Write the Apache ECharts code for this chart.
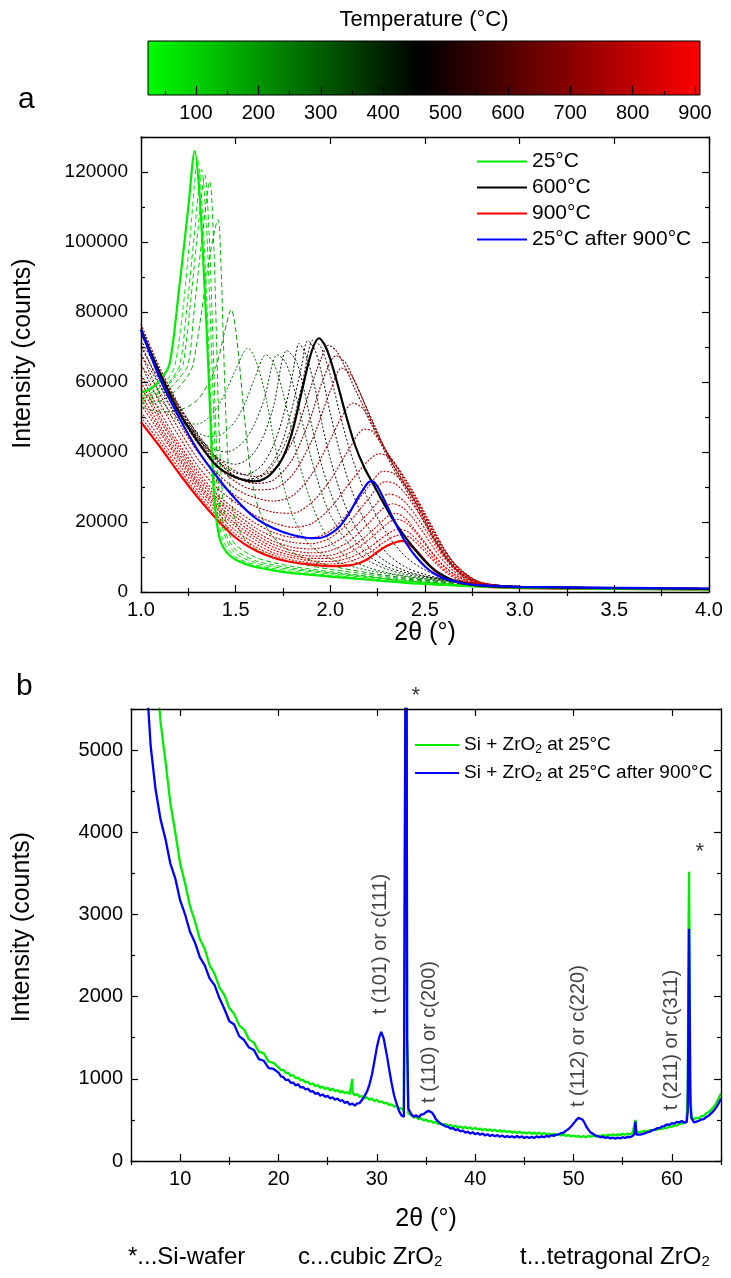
<!DOCTYPE html>
<html><head><meta charset="utf-8">
<script src="https://cdn.jsdelivr.net/npm/echarts@6/dist/echarts.min.js"></script>
<style>html,body{margin:0;padding:0;background:#fff}#c{width:731px;height:1278px}</style>
</head><body><div id="c"></div>
<script>
// ---------------- tick / category arrays ----------------
const tempTicks = [100,200,300,400,500,600,700,800,900];
const tempMinor = [50,150,250,350,450,550,650,750,850];
const tempRange = [23, 908];
const ttTicksA = [1.0,1.5,2.0,2.5,3.0,3.5,4.0];
const ttMinorA = [1.25,1.75,2.25,2.75,3.25,3.75];
const intTicksA = [0,20000,40000,60000,80000,100000,120000];
const intMinorA = [10000,30000,50000,70000,90000,110000,130000];
const ttTicksB = [10,20,30,40,50,60];
const ttMinorB = [5,15,25,35,45,55,65];
const intTicksB = [0,1000,2000,3000,4000,5000];
const intMinorB = [500,1500,2500,3500,4500,5500];

// ---------------- panel a: curves [2theta, counts] ----------------
const a25 = [[1.00,57000],[1.05,58000],[1.10,60500],[1.15,65000],[1.20,86000],[1.25,110000],[1.284,126000],[1.31,113000],[1.335,88000],[1.355,65000],[1.37,45000],[1.385,28000],[1.40,20000],[1.42,14500],[1.45,11500],[1.50,9200],[1.60,7200],[1.70,6200],[1.80,5400],[1.90,4900],[2.00,4400],[2.20,3500],[2.40,2600],[2.60,2000],[2.80,1500],[3.00,1200],[3.50,900],[4.00,700]];
const a50 = [[1.00,56000],[1.05,56800],[1.10,58500],[1.15,61500],[1.18,65000],[1.22,80000],[1.26,102000],[1.30,123500],[1.325,108000],[1.35,80000],[1.37,52000],[1.39,30000],[1.41,20000],[1.44,14000],[1.50,10000],[1.60,7800],[1.70,6700],[1.80,5900],[1.90,5300],[2.00,4800],[2.20,3800],[2.40,2900],[2.60,2200],[2.80,1700],[3.00,1300],[3.50,1000],[4.00,800]];
const a75 = [[1.00,55500],[1.05,56000],[1.10,57500],[1.15,60000],[1.205,65000],[1.24,80000],[1.28,101000],[1.32,120700],[1.345,105000],[1.365,80000],[1.385,50000],[1.40,32000],[1.42,21000],[1.45,15000],[1.50,11000],[1.60,8400],[1.70,7200],[1.80,6400],[1.90,5800],[2.00,5200],[2.20,4100],[2.40,3100],[2.60,2300],[2.80,1700],[3.00,1300],[3.50,1000],[4.00,800]];
const a100 = [[1.00,55000],[1.05,55500],[1.10,57000],[1.15,59500],[1.20,63000],[1.223,65000],[1.26,82000],[1.30,103000],[1.337,119200],[1.36,102000],[1.38,72000],[1.40,40000],[1.42,24000],[1.45,16500],[1.50,12000],[1.60,9000],[1.70,7700],[1.80,6800],[1.90,6100],[2.00,5500],[2.20,4300],[2.40,3200],[2.60,2400],[2.80,1800],[3.00,1400],[3.50,1000],[4.00,800]];
const a125 = [[1.00,54500],[1.05,55000],[1.10,56000],[1.15,58000],[1.20,61000],[1.249,65000],[1.28,80000],[1.32,100000],[1.363,117300],[1.385,98000],[1.40,70000],[1.415,42000],[1.435,25000],[1.46,17500],[1.50,13500],[1.60,10000],[1.70,8400],[1.80,7300],[1.90,6500],[2.00,5800],[2.20,4500],[2.40,3400],[2.60,2500],[2.80,1800],[3.00,1400],[3.50,1000],[4.00,800]];
const a150 = [[1.00,54000],[1.05,54000],[1.10,54500],[1.15,56000],[1.20,58500],[1.25,62000],[1.275,65000],[1.32,80000],[1.36,95000],[1.407,106400],[1.42,97000],[1.435,72000],[1.45,48000],[1.47,30000],[1.50,20000],[1.55,15000],[1.60,12500],[1.70,10000],[1.80,8500],[1.90,7400],[2.00,6500],[2.20,5000],[2.40,3700],[2.60,2700],[2.80,1900],[3.00,1500],[3.50,1100],[4.00,900]];
const a200 = [[1.00,53000],[1.05,52000],[1.10,51500],[1.15,51500],[1.20,52000],[1.25,53000],[1.30,55000],[1.35,59000],[1.40,65000],[1.44,74000],[1.477,80700],[1.50,75000],[1.52,65000],[1.55,48000],[1.58,34000],[1.62,24000],[1.68,17000],[1.75,13000],[1.85,10000],[2.00,7500],[2.20,5500],[2.40,4000],[2.60,2900],[2.80,2000],[3.00,1500],[3.50,1100],[4.00,900]];
const a250 = [[1.00,58000],[1.05,55000],[1.10,52500],[1.15,50500],[1.20,49000],[1.25,48000],[1.30,48000],[1.35,49500],[1.40,52500],[1.45,57500],[1.50,63500],[1.565,69700],[1.60,67000],[1.65,58000],[1.70,44000],[1.75,31000],[1.80,22000],[1.85,16500],[1.90,13000],[2.00,9500],[2.10,7500],[2.20,6200],[2.40,4400],[2.60,3100],[2.80,2100],[3.00,1600],[3.50,1200],[4.00,900]];
const a300 = [[1.00,62000],[1.05,58500],[1.10,55000],[1.15,52000],[1.20,49500],[1.25,47000],[1.30,45500],[1.35,44500],[1.40,44500],[1.45,46000],[1.50,49000],[1.55,54000],[1.60,61000],[1.66,67800],[1.70,65500],[1.75,57000],[1.80,45000],[1.85,34000],[1.90,25500],[1.95,19000],[2.00,14500],[2.10,9500],[2.20,7000],[2.30,5500],[2.40,4500],[2.60,3200],[2.80,2200],[3.00,1600],[3.50,1200],[4.00,900]];
const a350 = [[1.00,65000],[1.05,61000],[1.10,57000],[1.15,53500],[1.20,50000],[1.25,47000],[1.30,44000],[1.35,42000],[1.40,40500],[1.45,40000],[1.50,41000],[1.55,43500],[1.60,48000],[1.65,55000],[1.72,67800],[1.76,66000],[1.80,60000],[1.85,49000],[1.90,38000],[1.95,29000],[2.00,22000],[2.10,13500],[2.20,9000],[2.30,6500],[2.40,5000],[2.60,3400],[2.80,2300],[3.00,1600],[3.50,1200],[4.00,900]];
const a400 = [[1.00,68000],[1.05,63500],[1.10,59000],[1.15,55000],[1.20,51000],[1.25,47500],[1.30,44000],[1.35,41000],[1.40,38500],[1.45,37000],[1.50,36500],[1.55,37500],[1.60,40000],[1.65,45000],[1.70,53000],[1.77,69000],[1.82,66000],[1.86,58000],[1.90,48000],[1.95,37000],[2.00,28500],[2.05,22000],[2.10,17000],[2.20,10500],[2.30,7200],[2.40,5500],[2.60,3500],[2.80,2300],[3.00,1600],[3.50,1200],[4.00,900]];
const a450 = [[1.00,70000],[1.05,65000],[1.10,60500],[1.15,56000],[1.20,52000],[1.25,48000],[1.30,44500],[1.35,41000],[1.40,38000],[1.45,35500],[1.50,34000],[1.55,33500],[1.60,34500],[1.65,37000],[1.70,42000],[1.75,50000],[1.80,62000],[1.835,71000],[1.87,68000],[1.92,58000],[1.96,47000],[2.00,38000],[2.05,29000],[2.10,22000],[2.20,13000],[2.30,8500],[2.40,6000],[2.50,4500],[2.60,3600],[2.80,2300],[3.00,1600],[3.50,1200],[4.00,900]];
const a500 = [[1.00,72000],[1.05,67000],[1.10,62000],[1.15,57500],[1.20,53000],[1.25,49000],[1.30,45000],[1.35,41500],[1.40,38000],[1.45,35000],[1.50,33000],[1.55,32200],[1.60,32500],[1.65,34000],[1.70,37500],[1.75,43500],[1.80,53000],[1.85,65000],[1.88,71800],[1.92,69000],[1.96,61000],[2.00,51000],[2.05,40000],[2.10,31000],[2.15,24000],[2.20,18500],[2.30,11000],[2.40,7000],[2.50,5000],[2.60,3700],[2.80,2300],[3.00,1600],[3.50,1200],[4.00,900]];
const a550 = [[1.00,73500],[1.05,68500],[1.10,63000],[1.15,58000],[1.20,53000],[1.25,48500],[1.30,44000],[1.35,40000],[1.40,36500],[1.45,34000],[1.50,32500],[1.55,31800],[1.60,32000],[1.65,33500],[1.70,36500],[1.75,41000],[1.80,48000],[1.85,59000],[1.91,72000],[1.95,70000],[2.00,62000],[2.05,51000],[2.10,41000],[2.15,33000],[2.20,26500],[2.30,16500],[2.40,10000],[2.50,6300],[2.60,4200],[2.80,2300],[3.00,1600],[3.50,1200],[4.00,900]];
const a600 = [[1.00,75000],[1.10,62500],[1.20,51500],[1.30,43000],[1.40,36000],[1.50,32800],[1.60,31600],[1.65,32300],[1.70,34500],[1.75,38500],[1.80,46000],[1.85,57500],[1.90,68500],[1.94,72500],[1.98,69500],[2.03,61000],[2.08,51000],[2.13,42000],[2.18,35500],[2.23,30500],[2.28,25500],[2.33,20800],[2.38,16800],[2.43,13300],[2.48,10000],[2.53,7200],[2.58,5200],[2.65,3300],[2.75,2000],[2.90,1500],[3.00,1400],[3.50,1100],[4.00,900]];
const a650 = [[1.00,76500],[1.10,64000],[1.20,53500],[1.30,45000],[1.40,38500],[1.50,34500],[1.60,33000],[1.70,35000],[1.80,43000],[1.85,50500],[1.90,59000],[1.95,66500],[1.99,70500],[2.03,69000],[2.08,64000],[2.13,58000],[2.18,52500],[2.23,47000],[2.28,41000],[2.33,35500],[2.38,31000],[2.43,26500],[2.48,21500],[2.53,16500],[2.58,12000],[2.63,8200],[2.70,4500],[2.80,2200],[3.00,1500],[3.50,1200],[4.00,1000]];
const a675 = [[1.00,75500],[1.10,63000],[1.20,52500],[1.30,44000],[1.40,37500],[1.50,33000],[1.60,31000],[1.70,32000],[1.80,38000],[1.90,50500],[1.96,60500],[2.03,67500],[2.08,65500],[2.13,60000],[2.18,54000],[2.23,48000],[2.28,42000],[2.33,36500],[2.38,32000],[2.43,27500],[2.48,22500],[2.53,17000],[2.58,12500],[2.63,8600],[2.70,4800],[2.80,2400],[3.00,1500],[3.50,1200],[4.00,1000]];
const a700 = [[1.00,74000],[1.10,61500],[1.20,51000],[1.30,42500],[1.40,36000],[1.50,31500],[1.60,29200],[1.70,29500],[1.80,33500],[1.90,43000],[1.95,50000],[2.00,57500],[2.06,64000],[2.11,62000],[2.16,56500],[2.21,50000],[2.26,44000],[2.30,39500],[2.35,34500],[2.40,30000],[2.45,25500],[2.50,20500],[2.55,15500],[2.60,11000],[2.65,7500],[2.72,4300],[2.80,2500],[3.00,1500],[3.50,1200],[4.00,1000]];
const a725 = [[1.00,71000],[1.10,59000],[1.20,48500],[1.30,40000],[1.40,34000],[1.50,29500],[1.60,27000],[1.70,26000],[1.80,27500],[1.90,33500],[2.00,43500],[2.06,50000],[2.12,54000],[2.17,52500],[2.22,47500],[2.26,43500],[2.30,40000],[2.35,35500],[2.40,31000],[2.45,26500],[2.50,21500],[2.55,16500],[2.60,12000],[2.65,8300],[2.72,4800],[2.80,2600],[3.00,1500],[3.50,1200],[4.00,1000]];
const a750 = [[1.00,68000],[1.10,56500],[1.20,46500],[1.30,38000],[1.40,31800],[1.50,27500],[1.60,24500],[1.70,22800],[1.80,22500],[1.90,25500],[2.00,32000],[2.10,41000],[2.18,46500],[2.22,46000],[2.26,43000],[2.30,39800],[2.35,36000],[2.40,31500],[2.45,27000],[2.50,22000],[2.55,17000],[2.60,12300],[2.65,8500],[2.72,5000],[2.80,2700],[3.00,1500],[3.50,1200],[4.00,1000]];
const a775 = [[1.00,65000],[1.10,54000],[1.20,44500],[1.30,36000],[1.40,29800],[1.50,25500],[1.60,22000],[1.70,19800],[1.80,18500],[1.90,19500],[2.00,24000],[2.10,31000],[2.20,37500],[2.26,39500],[2.30,38800],[2.35,36000],[2.40,32000],[2.45,27500],[2.50,22500],[2.55,17500],[2.60,12500],[2.65,8500],[2.72,5000],[2.80,2600],[3.00,1400],[3.50,1100],[4.00,900]];
const a800 = [[1.00,62000],[1.10,51500],[1.20,42500],[1.30,34500],[1.40,28000],[1.50,23500],[1.60,19800],[1.70,17000],[1.80,15600],[1.90,15500],[2.00,17500],[2.10,23000],[2.20,30000],[2.28,34500],[2.33,34000],[2.38,31500],[2.43,27800],[2.48,23200],[2.53,18200],[2.58,13200],[2.63,9200],[2.68,6200],[2.75,3600],[2.85,1900],[3.00,1300],[3.50,1000],[4.00,900]];
const a815 = [[1.00,60000],[1.10,50000],[1.20,41500],[1.30,33500],[1.40,27000],[1.50,22500],[1.60,18500],[1.70,15700],[1.80,14200],[1.90,13800],[2.00,15500],[2.10,20000],[2.20,26500],[2.29,31500],[2.34,31000],[2.39,28500],[2.44,24800],[2.49,20500],[2.54,15800],[2.59,11300],[2.64,7800],[2.70,5000],[2.78,2900],[2.90,1700],[3.00,1300],[3.50,1000],[4.00,850]];
const a825 = [[1.00,58500],[1.10,49000],[1.20,40500],[1.30,32500],[1.40,26200],[1.50,21500],[1.60,17500],[1.70,14500],[1.80,12800],[1.90,12300],[2.00,13500],[2.10,17000],[2.20,22500],[2.31,28000],[2.36,27200],[2.41,24800],[2.46,21200],[2.51,17200],[2.56,12800],[2.61,9200],[2.66,6300],[2.72,4000],[2.80,2300],[3.00,1200],[3.50,1000],[4.00,800]];
const a840 = [[1.00,56500],[1.10,47500],[1.20,39500],[1.30,31500],[1.40,25300],[1.50,20500],[1.60,16600],[1.70,13600],[1.80,11900],[1.90,11200],[2.00,11800],[2.10,14500],[2.20,19500],[2.28,24000],[2.33,25200],[2.38,24200],[2.43,21500],[2.48,17800],[2.53,13800],[2.58,10000],[2.63,7000],[2.69,4500],[2.76,2800],[2.85,1800],[3.00,1150],[3.50,950],[4.00,800]];
const a850 = [[1.00,55000],[1.10,46500],[1.20,38500],[1.30,30800],[1.40,24500],[1.50,19500],[1.60,15800],[1.70,12800],[1.80,11000],[1.90,10300],[2.00,10500],[2.10,12500],[2.20,16500],[2.30,21500],[2.34,22500],[2.39,21300],[2.44,18300],[2.49,14800],[2.54,11200],[2.59,8000],[2.65,5300],[2.72,3300],[2.80,2000],[3.00,1100],[3.50,900],[4.00,800]];
const a860 = [[1.00,53500],[1.10,45500],[1.20,37800],[1.30,30000],[1.40,23800],[1.50,18700],[1.60,15000],[1.70,12000],[1.80,10400],[1.90,9600],[2.00,9600],[2.10,11200],[2.20,14800],[2.30,19500],[2.35,20800],[2.40,19800],[2.45,17000],[2.50,13600],[2.55,10200],[2.60,7300],[2.66,4800],[2.73,3000],[2.82,1800],[3.00,1100],[3.50,900],[4.00,750]];
const a875 = [[1.00,51500],[1.10,44000],[1.20,36500],[1.30,29000],[1.40,22800],[1.50,17500],[1.60,14000],[1.70,11200],[1.80,9800],[1.90,8900],[2.00,8700],[2.10,9800],[2.20,12500],[2.30,16500],[2.36,18000],[2.41,17200],[2.46,14800],[2.51,11800],[2.56,8700],[2.61,6100],[2.67,4000],[2.75,2400],[2.85,1500],[3.00,1100],[3.50,900],[4.00,700]];
const a888 = [[1.00,50000],[1.10,42800],[1.20,35300],[1.30,28000],[1.40,21800],[1.50,16500],[1.60,13000],[1.70,10500],[1.80,9100],[1.90,8300],[2.00,8000],[2.10,8700],[2.20,11000],[2.30,14800],[2.37,16300],[2.42,15600],[2.47,13200],[2.52,10300],[2.57,7500],[2.62,5200],[2.68,3400],[2.76,2100],[2.86,1400],[3.00,1100],[3.50,900],[4.00,700]];
const a900 = [[1.00,48500],[1.10,41500],[1.20,34000],[1.30,27000],[1.40,20800],[1.50,15500],[1.60,12000],[1.70,9800],[1.80,8500],[1.90,7800],[2.00,7400],[2.10,7600],[2.15,8200],[2.20,9500],[2.25,11500],[2.30,13200],[2.35,14300],[2.38,14600],[2.42,13500],[2.46,11500],[2.50,9000],[2.55,6200],[2.60,4300],[2.70,2300],[2.80,1500],[3.00,1100],[3.50,900],[4.00,700]];
const aAfter = [[1.00,75000],[1.10,61000],[1.20,50000],[1.30,40500],[1.40,33000],[1.50,26500],[1.60,21300],[1.70,18200],[1.80,16300],[1.90,15400],[1.95,15500],[2.00,16600],[2.05,18800],[2.10,22500],[2.15,27300],[2.20,31300],[2.22,31700],[2.25,30000],[2.30,24600],[2.35,19000],[2.40,14000],[2.45,10200],[2.50,7300],[2.55,5200],[2.60,3900],[2.70,2500],[2.80,1900],[3.00,1500],[3.50,1200],[4.00,1000]];
const thinTemps = [50,75,100,125,150,200,250,300,350,400,450,500,550,650,675,700,725,750,775,800,815,825,840,850,860,875,888];
const thinData  = [a50,a75,a100,a125,a150,a200,a250,a300,a350,a400,a450,a500,a550,a650,a675,a700,a725,a750,a775,a800,a815,a825,a840,a850,a860,a875,a888];

// ---------------- panel b: XRD patterns [2theta, counts] ----------------
const bGreen = [[6.5,8500],[7.0,7200],[7.5,6100],[8.0,5350],[8.5,4870],[9.0,4360],[9.5,4000],[10.0,3620],[10.5,3380],[11.0,3100],[11.5,2920],[12.0,2700],[12.5,2580],[13.0,2380],[13.5,2280],[14.0,2110],[14.5,2020],[15.0,1860],[15.5,1790],[16.0,1650],[16.5,1600],[17.0,1480],[17.5,1440],[18.0,1330],[18.5,1310],[19.0,1210],[19.5,1195],
[20.00,1140],[20.25,1105],[20.50,1110],[20.75,1070],[21.00,1075],[21.25,1035],[21.50,1045],[21.75,1005],[22.00,1015],[22.25,980],[22.50,990],[22.75,955],[23.00,965],[23.25,930],[23.50,945],[23.75,910],[24.00,925],[24.25,890],[24.50,905],[24.75,875],[25.00,890],[25.25,860],[25.50,880],[25.75,850],[26.00,865],[26.25,835],[26.50,850],[26.75,825],[27.00,840],[27.25,815],[27.45,830],[27.50,1000],[27.55,830],[27.75,800],[28.00,815],[28.25,780],[28.50,790],[28.75,765],[29.00,775],[29.25,745],[29.50,760],[29.75,730],[30.00,745],[30.25,715],[30.50,725],[30.75,700],[31.00,710],[31.25,680],[31.50,690],[31.75,660],[32.00,670],[32.25,640],[32.50,640],[32.75,610],[32.92,620],[33.00,8500],[33.08,1500],[33.20,580],[33.50,555],[33.75,530],[34.00,540],[34.25,510],[34.50,520],[34.75,495],[35.00,505],[35.25,480],[35.50,490],[35.75,465],[36.00,475],[36.25,450],[36.50,460],[36.75,440],[37.00,450],[37.25,425],[37.50,440],[37.75,415],[38.00,430],[38.25,405],[38.50,420],[38.75,400],[39.00,415],[39.25,395],[39.50,410],[39.75,385],[40.00,405],[40.25,385],[40.50,395],[40.75,375],[41.00,390],[41.25,370],[41.50,385],[41.75,365],[42.00,380],[42.25,360],[42.50,375],[42.75,355],[43.00,370],[43.25,350],[43.50,365],[43.75,345],[44.00,360],[44.25,340],[44.50,355],[44.75,340],[45.00,350],[45.25,335],[45.50,350],[45.75,330],[46.00,345],[46.25,330],[46.50,345],[46.75,325],[47.00,340],[47.25,325],[47.50,335],[47.75,320],[48.00,330],[48.25,315],[48.50,325],[48.75,310],[49.00,320],[49.25,305],[49.50,315],[49.75,300],[50.00,310],[50.25,295],[50.50,305],[50.75,290],[51.00,305],[51.25,290],[51.50,305],[51.75,295],[52.00,310],[52.25,295],[52.50,310],[52.75,300],[53.00,315],[53.25,305],[53.50,320],[53.75,310],[54.00,325],[54.25,310],[54.50,325],[54.75,315],[55.00,330],[55.25,320],[55.50,335],[55.75,325],[56.00,340],[56.20,345],[56.30,500],[56.40,345],[56.60,340],[56.80,355],[57.00,350],[57.25,365],[57.50,360],[57.75,375],[58.00,370],[58.25,385],[58.50,380],[58.75,395],[59.00,390],[59.25,405],[59.50,400],[59.75,420],[60.00,415],[60.25,435],[60.50,430],[60.75,450],[61.00,455],[61.25,470],[61.50,480],[61.62,900],[61.70,2800],[61.75,3520],[61.80,2600],[61.88,900],[62.00,530],[62.25,510],[62.50,525],[62.75,520],[63.00,545],[63.25,550],[63.50,580],[63.75,595],[64.00,625],[64.25,655],[64.50,700],[64.75,760],[65.00,820]];
const bBlue = [[6.0,7200],[6.5,6000],[7.0,5050],[7.5,4520],[8.0,4160],[8.5,3920],[9.0,3620],[9.5,3440],[10.0,3170],[10.5,3000],[11.0,2790],[11.5,2660],[12.0,2480],[12.5,2380],[13.0,2220],[13.5,2140],[14.0,1980],[14.5,1850],[15.0,1700],[15.5,1660],[16.0,1520],[16.5,1470],[17.0,1380],[17.5,1350],[18.0,1240],[18.5,1220],[19.0,1130],[19.5,1120],
[20.00,1075],[20.25,1030],[20.50,1020],[20.75,985],[21.00,990],[21.25,950],[21.50,955],[21.75,920],[22.00,935],[22.25,895],[22.50,900],[22.75,870],[23.00,880],[23.25,845],[23.50,850],[23.75,815],[24.00,830],[24.25,795],[24.50,810],[24.75,780],[25.00,795],[25.25,760],[25.50,775],[25.75,745],[26.00,760],[26.25,730],[26.50,740],[26.75,705],[27.00,720],[27.25,685],[27.50,700],[27.75,675],[28.00,700],[28.25,705],[28.50,745],[28.75,790],[29.00,845],[29.25,930],[29.50,1050],[29.75,1210],[30.00,1380],[30.25,1510],[30.45,1570],[30.70,1490],[31.00,1300],[31.25,1120],[31.50,950],[31.75,800],[32.00,700],[32.25,610],[32.50,555],[32.75,540],[32.92,560],[33.00,9000],[33.08,1500],[33.20,640],[33.50,570],[33.75,540],[34.00,555],[34.25,530],[34.50,565],[34.75,570],[35.00,595],[35.25,610],[35.40,630],[35.60,590],[35.80,555],[36.00,510],[36.25,480],[36.50,450],[36.75,440],[37.00,420],[37.25,415],[37.50,395],[37.75,400],[38.00,375],[38.25,385],[38.50,360],[38.75,370],[39.00,345],[39.25,355],[39.50,335],[39.75,350],[40.00,325],[40.25,340],[40.50,320],[40.75,335],[41.00,310],[41.25,325],[41.50,305],[41.75,320],[42.00,300],[42.25,315],[42.50,295],[42.75,310],[43.00,290],[43.25,305],[43.50,290],[43.75,300],[44.00,285],[44.25,305],[44.50,285],[44.75,300],[45.00,280],[45.25,295],[45.50,280],[45.75,295],[46.00,280],[46.25,300],[46.50,285],[46.75,300],[47.00,290],[47.25,305],[47.50,295],[47.75,315],[48.00,305],[48.25,320],[48.50,325],[48.75,340],[49.00,345],[49.25,370],[49.50,390],[49.75,420],[50.00,455],[50.25,495],[50.50,525],[50.70,535],[50.90,505],[51.10,470],[51.30,420],[51.50,385],[51.75,345],[52.00,330],[52.25,310],[52.50,300],[52.75,290],[53.00,295],[53.25,280],[53.50,290],[53.75,275],[54.00,285],[54.25,270],[54.50,285],[54.75,275],[55.00,290],[55.25,280],[55.50,295],[55.75,290],[56.00,305],[56.20,330],[56.30,480],[56.40,320],[56.60,300],[56.80,320],[57.00,330],[57.25,335],[57.50,350],[57.75,355],[58.00,375],[58.25,380],[58.50,400],[58.75,400],[59.00,420],[59.25,425],[59.50,445],[59.75,440],[60.00,460],[60.25,455],[60.50,475],[60.75,470],[61.00,485],[61.25,470],[61.50,470],[61.62,600],[61.70,2000],[61.75,2825],[61.80,2000],[61.88,700],[62.00,520],[62.25,470],[62.50,480],[62.75,490],[63.00,505],[63.25,510],[63.50,535],[63.75,550],[64.00,580],[64.25,610],[64.50,650],[64.75,700],[65.00,760]];
const peakLabels = [[30.45,1780,'t (101) or c(111)'],[35.4,700,'t (110) or c(200)'],[50.6,650,'t (112) or c(220)'],[60.0,610,'t (211) or c(311)']];
const starLabels = [[34.0,5650,'*'],[62.9,3750,'*']];

// ---------------- styling ----------------
const FONT = '"Liberation Sans", Arial, Helvetica, sans-serif';
function tempColor(t){
  if (t <= 460) return 'rgb(0,' + Math.round(255*(460-t)/438) + ',0)';
  return 'rgb(' + Math.round(255*(t-460)/448) + ',0,0)';
}
function axes(kind, grid, min, max, major, minor, o){
  const isX = kind === 'x';
  const p1 = isX ? 'bottom' : 'left', p2 = isX ? 'top' : 'right';
  const line = {show:true, onZero:false, lineStyle:{color:'#000', width:1.4}};
  const tick = (vals, len) => ({show:true, inside:true, length:len, customValues:vals, lineStyle:{color:'#000', width:1.2}});
  const base = {type:'value', gridIndex:grid, min:min, max:max, splitLine:{show:false}, z:5};
  return [
    Object.assign({}, base, {position:p1, axisLine:line, axisTick:tick(major,7),
      axisLabel:{show:true, customValues:major, formatter:o.fmt, color:'#000', fontSize:o.fs, fontFamily:FONT, margin:o.margin},
      name:o.name, nameLocation:'middle', nameGap:o.nameGap,
      nameTextStyle:{color:'#000', fontSize:o.nfs, fontFamily:FONT, padding:o.npad || 0}}),
    Object.assign({}, base, {position:p1, axisLine:{show:false}, axisTick:tick(minor,4), axisLabel:{show:false}}),
    Object.assign({}, base, {position:p2, axisLine:line, axisTick:tick(major,7), axisLabel:{show:false}}),
    Object.assign({}, base, {position:p2, axisLine:{show:false}, axisTick:tick(minor,4), axisLabel:{show:false}})
  ];
}

const chart = echarts.init(document.getElementById('c'), null, {renderer:'canvas'});

const xAxes = [
  {type:'value', gridIndex:0, min:tempRange[0], max:tempRange[1], position:'bottom', z:5, splitLine:{show:false},
   axisLine:{show:false}, axisTick:{show:true, inside:true, length:9, customValues:tempTicks, lineStyle:{color:'#000', width:1.2}},
   axisLabel:{show:true, customValues:tempTicks, color:'#000', fontSize:20, fontFamily:FONT, margin:8}},
  {type:'value', gridIndex:0, min:tempRange[0], max:tempRange[1], position:'bottom', z:5, splitLine:{show:false},
   axisLine:{show:false}, axisTick:{show:true, inside:true, length:4, customValues:tempMinor, lineStyle:{color:'#000', width:1.2}},
   axisLabel:{show:false}}
].concat(
  axes('x', 1, 1, 4, ttTicksA, ttMinorA, {fmt:v=>v.toFixed(1), fs:20, margin:8, name:'2θ (°)', nameGap:29, nfs:25}),
  axes('x', 2, 5, 65, ttTicksB, ttMinorB, {fmt:v=>String(v), fs:20, margin:8, name:'2θ (°)', nameGap:46, nfs:25})
);
const yAxes = [
  {type:'value', gridIndex:0, min:0, max:1, show:false}
].concat(
  axes('y', 1, 0, 130000, intTicksA, intMinorA, {fmt:v=>String(v), fs:19, margin:13, name:'Intensity (counts)', nameGap:105, nfs:25, npad:[0,0,0,22]}),
  axes('y', 2, 0, 5500, intTicksB, intMinorB, {fmt:v=>String(v), fs:20, margin:8, name:'Intensity (counts)', nameGap:96, nfs:25, npad:[0,0,0,16]})
);

const series = [];
// colour bar
series.push({
  type:'custom', xAxisIndex:0, yAxisIndex:0, z:1, silent:true, data:[[tempRange[0], tempRange[1]]],
  renderItem:function(params, api){
    const p0 = api.coord([api.value(0), 0]);
    const p1 = api.coord([api.value(1), 1]);
    const span = tempRange[1]-tempRange[0];
    return {type:'rect', shape:{x:p0[0], y:p1[1], width:p1[0]-p0[0], height:p0[1]-p1[1]},
      style:{fill:new echarts.graphic.LinearGradient(0,0,1,0,[
        {offset:0, color:tempColor(tempRange[0])},
        {offset:(460-tempRange[0])/span, color:tempColor(460)},
        {offset:1, color:tempColor(tempRange[1])}]), stroke:'#000', lineWidth:1}};
  }
});
// thin temperature curves
thinTemps.forEach(function(t, i){
  const dash = t <= 200 ? [5,3] : (t < 600 ? [2,2] : [2,1.5]);
  series.push({type:'line', name:'T'+t, xAxisIndex:2, yAxisIndex:1, data:thinData[i], symbol:'none',
    smooth:0.3, silent:true, z:2, lineStyle:{color:tempColor(t), width:t > 600 ? 1.1 : 1, type:dash}});
});
// highlighted curves
[['900°C', a900, '#ff0000'], ['25°C', a25, '#00ee00'], ['600°C', a600, '#000000'], ['25°C after 900°C', aAfter, '#0000ff']].forEach(function(s){
  series.push({type:'line', name:s[0], xAxisIndex:2, yAxisIndex:1, data:s[1], symbol:'none', smooth:0.3, silent:true, z:3,
    itemStyle:{color:s[2]}, lineStyle:{color:s[2], width:2.2}});
});
// panel b
series.push({type:'line', name:'Si + ZrO2 at 25°C', xAxisIndex:6, yAxisIndex:5, data:bGreen, symbol:'none', silent:true, z:2,
  itemStyle:{color:'#00ee00'}, lineStyle:{color:'#00ee00', width:2.3}});
series.push({type:'line', name:'Si + ZrO2 at 25°C after 900°C', xAxisIndex:6, yAxisIndex:5, data:bBlue, symbol:'none', silent:true, z:3,
  itemStyle:{color:'#0000ff'}, lineStyle:{color:'#0000ff', width:2.3}});
series.push({type:'scatter', xAxisIndex:6, yAxisIndex:5, data:peakLabels, symbolSize:1, clip:false, itemStyle:{color:'rgba(0,0,0,0)'}, silent:true, z:4,
  label:{show:true, formatter:p=>p.data[2], rotate:90, position:[0,0], align:'left', verticalAlign:'middle', color:'#111', fontSize:20, fontFamily:FONT}});
series.push({type:'scatter', xAxisIndex:6, yAxisIndex:5, data:starLabels, symbolSize:1, clip:false, itemStyle:{color:'rgba(0,0,0,0)'}, silent:true, z:4,
  label:{show:true, formatter:p=>p.data[2], position:[0,0], align:'center', verticalAlign:'middle', color:'#000', fontSize:22, fontFamily:FONT}});

const subRich = {sub:{fontSize:12, verticalAlign:'bottom', lineHeight:12, fontFamily:FONT, color:'#000'}};
const noteRich = {sub:{fontSize:15, verticalAlign:'bottom', lineHeight:15, fontFamily:FONT}};

chart.setOption({
  animation:false,
  backgroundColor:'#fff',
  grid:[
    {left:148, top:41, width:552, height:54},
    {left:141, top:137, width:568, height:455},
    {left:131, top:709, width:590, height:452}
  ],
  xAxis:xAxes,
  yAxis:yAxes,
  legend:[
    {data:['25°C','600°C','900°C','25°C after 900°C'], orient:'vertical', left:472, top:146, icon:'rect', itemWidth:50, itemHeight:2, itemGap:5,
     selectedMode:false, textStyle:{color:'#000', fontSize:21, fontFamily:FONT}},
    {data:['Si + ZrO2 at 25°C','Si + ZrO2 at 25°C after 900°C'], orient:'vertical', left:410, top:729, icon:'rect', itemWidth:44, itemHeight:2, itemGap:6,
     selectedMode:false, formatter:n=>n.replace('ZrO2','ZrO{sub|2}'),
     textStyle:{color:'#000', fontSize:19, fontFamily:FONT, lineHeight:22, rich:subRich}}
  ],
  graphic:[
    {type:'text', x:424, y:20, style:{text:'Temperature (°C)', fill:'#000', font:'22px '+FONT, align:'center', verticalAlign:'middle', textAlign:'center', textVerticalAlign:'middle'}},
    {type:'text', left:18, top:85, style:{text:'a', fill:'#000', font:'30px '+FONT}},
    {type:'text', left:16, top:672, style:{text:'b', fill:'#000', font:'30px '+FONT}},
    {type:'text', left:128, top:1245, style:{text:'*...Si-wafer', fill:'#000', font:'24px '+FONT}},
    {type:'text', left:298, top:1245, style:{text:'c...cubic ZrO{sub|2}', fill:'#000', font:'24px '+FONT, rich:noteRich}},
    {type:'text', left:520, top:1245, style:{text:'t...tetragonal ZrO{sub|2}', fill:'#000', font:'24px '+FONT, rich:noteRich}}
  ],
  series:series
});
</script></body></html>
